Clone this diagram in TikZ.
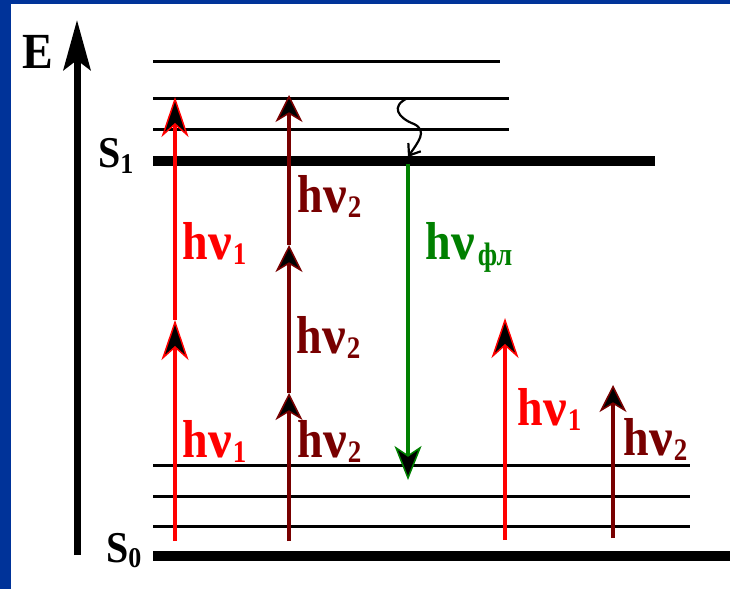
\documentclass[tikz,border=0pt]{standalone}
\usepackage{fontspec}
\setmainfont{Liberation Serif}
\usetikzlibrary{arrows.meta}
\definecolor{bgblue}{RGB}{0,51,153}
\definecolor{darkred}{RGB}{120,0,0}
\definecolor{fgreen}{RGB}{0,128,0}
\newcommand\widenu{\scalebox{1.15}[1]{ν}}
\newcommand\hnulab[1]{\scalebox{1}[1.16]{h\kern0.5pt\widenu\kern1pt\raisebox{-5pt}{\fontsize{27}{27}\selectfont #1}}}
\begin{document}
\begin{tikzpicture}[x=1pt,y=-1pt,
  thinlevel/.style={line width=3pt},
  mainlevel/.style={line width=10pt},
  lbl/.style={anchor=base west, inner sep=0pt, font=\bfseries\fontsize{46}{46}\selectfont},
  slbl/.style={anchor=base west, inner sep=0pt, font=\bfseries\fontsize{40}{40}\selectfont},
  redarrow/.style={draw=red, line width=3.5pt, -{Stealth[length=40pt,width=27pt,inset=12pt,fill=black,line width=1.5pt]}},
  maroonarrow/.style={draw=darkred, line width=3.5pt, -{Stealth[length=27pt,width=27pt,inset=8pt,fill=black,line width=1.5pt]}},
  greenarrow/.style={draw=fgreen, line width=3.5pt, -{Stealth[length=34pt,width=27pt,inset=9pt,fill=black,line width=1.5pt]}},
  axisarrow/.style={draw=black, line width=7pt, -{Stealth[length=50pt,width=27pt,inset=10pt]}},
  squiggle/.style={line width=2.2pt, -{Straight Barb[length=10pt,width=15pt,line width=2.2pt]}},
]
% background
\fill[bgblue] (0,0) rectangle (730,589);
\fill[white] (11,4) rectangle (730,589);
\useasboundingbox (0,0) rectangle (730,589);

% energy axis
\coordinate (axb) at (77,555);
\coordinate (axt) at (77,20);
\draw[axisarrow] (axb) -- (axt);
\node[lbl] (E) at (22,68) {\scalebox{1}[1.1]{E}};

% levels
\draw[thinlevel] (153,61) -- (500,61);
\draw[thinlevel] (153,98) -- (509,98);
\draw[thinlevel] (153,129) -- (509,129);
\draw[mainlevel] (153,161) -- (655,161);
\draw[thinlevel] (153,465) -- (690,465);
\draw[thinlevel] (153,496) -- (690,496);
\draw[thinlevel] (153,526) -- (690,526);
\draw[mainlevel] (153,556) -- (730,556);

\node[slbl] (S1) at (98,167) {\scalebox{1}[1.1]{S\raisebox{-6pt}{\fontsize{26}{26}\selectfont 1}}};
\node[slbl] (S0) at (106,562) {\scalebox{1}[1.1]{S\raisebox{-5pt}{\fontsize{26}{26}\selectfont 0}}};

% red column (two-photon hv1)
\coordinate (r0) at (175,541);
\coordinate (r1) at (175,320);
\coordinate (r2) at (175,97);
\draw[redarrow] (r1) -- (r2);
\draw[redarrow] (r0) -- (r1);
\node[lbl, text=red] (l1) at (182,259) {\hnulab{1}};
\node[lbl, text=red] (l2) at (182,457) {\hnulab{1}};

% maroon column (three-photon hv2)
\coordinate (m0) at (289,541);
\coordinate (m1) at (289,393);
\coordinate (m2) at (289,245);
\coordinate (m3) at (289,95);
\draw[maroonarrow] (m2) -- (m3);
\draw[maroonarrow] (m1) -- (m2);
\draw[maroonarrow] (m0) -- (m1);
\node[lbl, text=darkred] (l3) at (297,212) {\hnulab{2}};
\node[lbl, text=darkred] (l4) at (296,353) {\hnulab{2}};
\node[lbl, text=darkred] (l5) at (297,457) {\hnulab{2}};

% relaxation squiggle
\coordinate (w0) at (408,98);
\coordinate (w1) at (414,124);
\coordinate (w2) at (408,157);
\draw[squiggle]
  (w0) .. controls (390,106) and (398,118) .. (w1)
       .. controls (428,131) and (418,142) .. (w2);

% fluorescence
\coordinate (g0) at (408,164);
\coordinate (g1) at (408,480);
\draw[greenarrow] (g0) -- (g1);
\node[lbl, text=fgreen] (l6) at (425,259) {\scalebox{1}[1.16]{h\kern0.5pt\widenu\kern3pt\raisebox{-6pt}{\fontsize{28}{28}\selectfont фл}}};

% single-photon arrows
\coordinate (s0) at (505,540);
\coordinate (s1) at (505,318);
\draw[redarrow] (s0) -- (s1);
\node[lbl, text=red] (l7) at (517,425) {\hnulab{1}};
\coordinate (t0) at (613,538);
\coordinate (t1) at (613,385);
\draw[maroonarrow] (t0) -- (t1);
\node[lbl, text=darkred] (l8) at (623,455) {\hnulab{2}};
\end{tikzpicture}
\end{document}
